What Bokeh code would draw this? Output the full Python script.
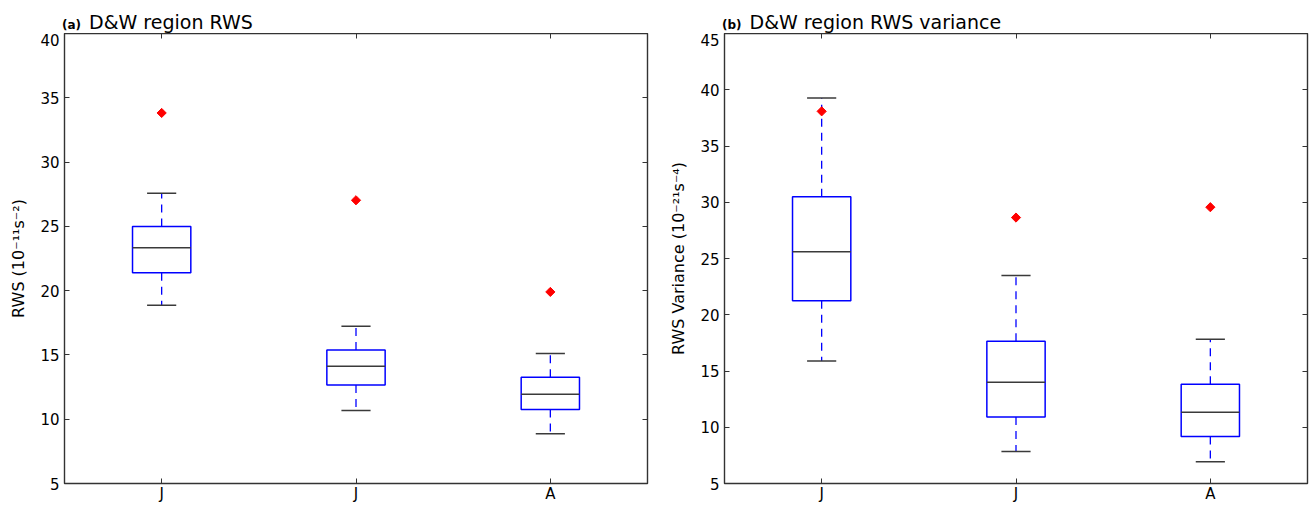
from bokeh.plotting import figure
from bokeh.layouts import row, column
from bokeh.models import LinearAxis, FixedTicker, ColumnDataSource, Range1d, Div
from bokeh.embed import file_html
from bokeh.resources import INLINE
import math

# ---- data ----
months = ["J", "J", "A"]
positions = [1, 2, 3]

rws_low = [18.86, 10.67, 8.86]
rws_q1 = [21.40, 12.66, 10.75]
rws_med = [23.33, 14.11, 11.94]
rws_q3 = [24.99, 15.38, 13.26]
rws_high = [27.57, 17.24, 15.12]
rws_out = [33.82, 27.03, 19.90]

var_low = [15.90, 7.85, 6.93]
var_q1 = [21.24, 10.91, 9.17]
var_med = [25.60, 14.01, 11.33]
var_q3 = [30.50, 17.64, 13.83]
var_high = [39.26, 23.48, 17.82]
var_out = [38.08, 28.64, 29.56]

rws_ticks = [5, 10, 15, 20, 25, 30, 35, 40]
var_ticks = [5, 10, 15, 20, 25, 30, 35, 40, 45]

FONT = "DejaVu Sans"
BOX_W = 0.3
CAP_W = 0.15
TICK_FS = "15px"


def style_axis(ax, show_labels=True):
    ax.major_tick_in = 5
    ax.major_tick_out = 0
    ax.minor_tick_in = 0
    ax.minor_tick_out = 0
    ax.axis_line_color = None
    ax.major_tick_line_color = "#333333"
    ax.major_tick_line_width = 1
    ax.major_label_text_font = FONT
    if show_labels:
        ax.major_label_text_font_size = TICK_FS
        ax.major_label_text_color = "black"
        ax.major_label_standoff = 5
    else:
        ax.major_label_text_font_size = "1px"
        ax.major_label_text_color = None
        ax.major_label_standoff = 0


def panel(ylabel, yr, yticks, low, q1, med, q3, high, out, width, bl, br):
    p = figure(width=width, height=472, output_backend="svg",
               toolbar_location=None, x_range=Range1d(0.5, 3.5),
               y_range=Range1d(*yr), min_border_left=bl, min_border_right=br,
               min_border_top=0, min_border_bottom=0)
    p.xgrid.visible = False
    p.ygrid.visible = False
    p.outline_line_color = "#333333"
    p.outline_line_width = 1.4
    p.background_fill_color = "white"
    p.border_fill_color = "white"

    p.xaxis.ticker = FixedTicker(ticks=positions)
    p.xaxis.major_label_overrides = {pos: m for pos, m in zip(positions, months)}
    p.yaxis.ticker = FixedTicker(ticks=yticks)
    style_axis(p.xaxis[0])
    style_axis(p.yaxis[0])
    p.xaxis.major_label_standoff = 1
    p.yaxis.axis_label = ylabel
    p.yaxis.axis_label_text_font = FONT
    p.yaxis.axis_label_text_font_size = "16px"
    p.yaxis.axis_label_text_font_style = "normal"
    p.yaxis.axis_label_text_color = "black"
    p.yaxis.axis_label_standoff = 9

    top_ax = LinearAxis(ticker=FixedTicker(ticks=positions))
    style_axis(top_ax, show_labels=False)
    p.add_layout(top_ax, "above")
    right_ax = LinearAxis(ticker=FixedTicker(ticks=yticks))
    style_axis(right_ax, show_labels=False)
    p.add_layout(right_ax, "right")

    src = ColumnDataSource(dict(
        x=positions, low=low, q1=q1, med=med, q3=q3, high=high, out=out,
        xl=[x - BOX_W / 2 for x in positions], xr=[x + BOX_W / 2 for x in positions],
        cl=[x - CAP_W / 2 for x in positions], cr=[x + CAP_W / 2 for x in positions],
    ))
    # whiskers
    p.segment(x0="x", y0="q3", x1="x", y1="high", source=src,
              line_color="#0000ff", line_width=1.3, line_dash="8 6")
    p.segment(x0="x", y0="q1", x1="x", y1="low", source=src,
              line_color="#0000ff", line_width=1.3, line_dash="8 6")
    # caps
    p.segment(x0="cl", y0="high", x1="cr", y1="high", source=src,
              line_color="#3a3a3a", line_width=1.5)
    p.segment(x0="cl", y0="low", x1="cr", y1="low", source=src,
              line_color="#3a3a3a", line_width=1.5)
    # boxes
    p.vbar(x="x", width=BOX_W, bottom="q1", top="q3", source=src,
           fill_color=None, line_color="#0000ff", line_width=1.5)
    # medians
    p.segment(x0="xl", y0="med", x1="xr", y1="med", source=src,
              line_color="#3a3a3a", line_width=1.5)
    # outliers (matplotlib-style red diamonds)
    p.scatter(x="x", y="out", source=src, marker="square", size=6.5,
              angle=math.pi / 4, fill_color="#ff0000", line_color="#ff0000")
    return p


def title_div(tag, title, width, pad_left):
    html = ('<div style="font-family:\'DejaVu Sans\';color:black;white-space:nowrap;'
            'line-height:1;padding-left:%dpx;padding-top:13px;">'
            '<b style="font-size:12px">%s</b>'
            '<span style="font-size:19px;margin-left:8px">%s</span></div>'
            % (pad_left, tag, title))
    return Div(text=html, width=width, height=33, margin=(0, 0, 0, 0))


p1 = panel("RWS (10\u207b\u00b9\u00b9s\u207b\u00b2)",
           (5, 40), rws_ticks, rws_low, rws_q1, rws_med, rws_q3, rws_high,
           rws_out, 656, 64, 9)
p2 = panel("RWS Variance (10\u207b\u00b2\u00b9s\u207b\u2074)",
           (5, 45), var_ticks, var_low, var_q1, var_med, var_q3, var_high,
           var_out, 655, 68, 4)

d1 = title_div("(a)", "D&amp;W region RWS", 656, 62)
d2 = title_div("(b)", "D&amp;W region RWS variance", 655, 66)

layout = column(row(d1, d2), row(p1, p2))
open("out.html", "w").write(file_html(layout, INLINE))
